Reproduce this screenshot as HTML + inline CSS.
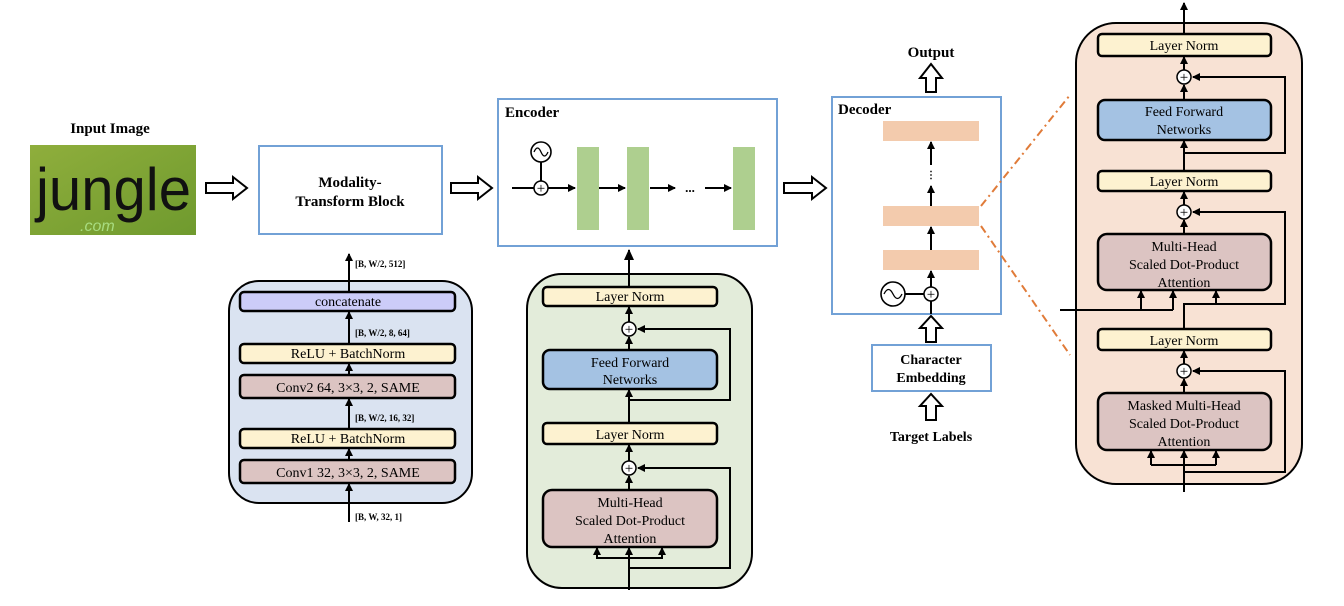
<!DOCTYPE html>
<html><head><meta charset="utf-8"><style>
html,body{margin:0;padding:0;background:#fff;}
svg{display:block;font-family:"Liberation Serif",serif;}
.b{font-weight:bold;}
</style></head><body>
<svg width="1344" height="606" viewBox="0 0 1344 606" xmlns="http://www.w3.org/2000/svg">
<defs>
<marker id="ah" markerWidth="8" markerHeight="8" refX="7" refY="4" orient="auto" markerUnits="userSpaceOnUse"><path d="M0,0 L8,4 L0,8 z" fill="#000"/></marker>
<marker id="ahs" markerWidth="11" markerHeight="10" refX="10" refY="5" orient="auto" markerUnits="userSpaceOnUse"><path d="M0,0 L11,5 L0,10 z" fill="#000"/></marker>
<linearGradient id="gimg" x1="0" y1="0" x2="1" y2="1"><stop offset="0" stop-color="#8fae3c"/><stop offset="1" stop-color="#6f9a2e"/></linearGradient>
</defs>

<!-- Input image -->
<text x="110" y="133" class="b" font-size="15" text-anchor="middle">Input Image</text>
<rect x="30" y="145" width="166" height="90" fill="url(#gimg)"/>
<text x="36" y="210" font-family="Liberation Sans,sans-serif" font-size="60" fill="#111" textLength="155" lengthAdjust="spacingAndGlyphs">jungle</text>
<text x="80" y="231" font-family="Liberation Sans,sans-serif" font-size="16" fill="#a8dc80" font-style="italic">.com</text>

<!-- hollow arrows -->
<g fill="#fff" stroke="#000" stroke-width="2">
<polygon points="206,183 233,183 233,177 247,188 233,199 233,193 206,193"/>
<polygon points="451,183 478,183 478,177 492,188 478,199 478,193 451,193"/>
<polygon points="784,183 812,183 812,177 826,188 812,199 812,193 784,193"/>
<polygon points="926,92 926,78 920,78 931,64 942,78 936,78 936,92"/>
<polygon points="926,342 926,328 920,328 931,316 942,328 936,328 936,342"/>
<polygon points="926,420 926,406 920,406 931,394 942,406 936,406 936,420"/>
<polygon points="853,131 866,131 866,127 875,135 866,143 866,139 853,139"/>
<polygon points="853,211 866,211 866,207 875,215 866,223 866,219 853,219"/>
<polygon points="853,251 866,251 866,247 875,255 866,263 866,259 853,259"/>
</g>

<!-- Modality box -->
<rect x="259" y="146" width="183" height="88" fill="#fff" stroke="#72a1d6" stroke-width="2"/>
<text x="350" y="187" class="b" font-size="15" text-anchor="middle">Modality-</text>
<text x="350" y="206" class="b" font-size="15" text-anchor="middle">Transform Block</text>

<!-- Encoder box -->
<rect x="498" y="99" width="279" height="147" fill="#fff" stroke="#72a1d6" stroke-width="2"/>
<text x="505" y="117" class="b" font-size="15">Encoder</text>
<circle cx="541" cy="152" r="10" fill="#fff" stroke="#000" stroke-width="1.6"/>
<path d="M534,152 q3.5,-8 7,0 t7,0" fill="none" stroke="#000" stroke-width="1.3"/>
<line x1="541" y1="162" x2="541" y2="181" stroke="#000" stroke-width="2"/>
<line x1="512" y1="188" x2="575" y2="188" stroke="#000" stroke-width="2" marker-end="url(#ah)"/>
<circle cx="541" cy="188" r="7" fill="#fff" stroke="#000" stroke-width="1.5"/>
<text x="541" y="193" font-size="15" text-anchor="middle">+</text>
<rect x="577" y="147" width="22" height="83" fill="#aecf8f"/>
<rect x="627" y="147" width="22" height="83" fill="#aecf8f"/>
<rect x="733" y="147" width="22" height="83" fill="#aecf8f"/>
<line x1="599" y1="188" x2="625" y2="188" stroke="#000" stroke-width="2" marker-end="url(#ah)"/>
<line x1="650" y1="188" x2="675" y2="188" stroke="#000" stroke-width="2" marker-end="url(#ah)"/>
<text x="690" y="192" font-size="13" text-anchor="middle" class="b">...</text>
<line x1="705" y1="188" x2="731" y2="188" stroke="#000" stroke-width="2" marker-end="url(#ah)"/>

<!-- Decoder box -->
<rect x="832" y="97" width="169" height="217" fill="#fff" stroke="#72a1d6" stroke-width="2"/>
<text x="838" y="114" class="b" font-size="15">Decoder</text>
<rect x="883" y="121" width="96" height="20" fill="#f3cbad"/>
<rect x="883" y="206" width="96" height="20" fill="#f3cbad"/>
<rect x="883" y="250" width="96" height="20" fill="#f3cbad"/>
<g stroke="#000" stroke-width="2">
<line x1="931" y1="314" x2="931" y2="301"/>
<line x1="931" y1="287" x2="931" y2="271" marker-end="url(#ah)"/>
<line x1="931" y1="250" x2="931" y2="227" marker-end="url(#ah)"/>
<line x1="931" y1="206" x2="931" y2="186" marker-end="url(#ah)"/>
<line x1="931" y1="165" x2="931" y2="142" marker-end="url(#ah)"/>
<line x1="905" y1="294" x2="924" y2="294"/>
</g>
<text x="931" y="178" font-size="10" text-anchor="middle" class="b">⋮</text>
<circle cx="893" cy="294" r="12" fill="#fff" stroke="#000" stroke-width="1.6"/>
<path d="M884,294 q4.5,-9 9,0 t9,0" fill="none" stroke="#000" stroke-width="1.3"/>
<circle cx="931" cy="294" r="7" fill="#fff" stroke="#000" stroke-width="1.5"/>
<text x="931" y="299" font-size="15" text-anchor="middle">+</text>

<text x="931" y="57" class="b" font-size="15" text-anchor="middle">Output</text>
<rect x="872" y="345" width="119" height="46" fill="#fff" stroke="#72a1d6" stroke-width="2"/>
<text x="931" y="364" class="b" font-size="14" text-anchor="middle">Character</text>
<text x="931" y="382" class="b" font-size="14" text-anchor="middle">Embedding</text>
<text x="931" y="441" class="b" font-size="14" text-anchor="middle">Target Labels</text>

<!-- orange dash-dot -->
<g stroke="#e07b39" stroke-width="2" stroke-dasharray="8,4,2,4" fill="none">
<line x1="981" y1="206" x2="1070" y2="95"/>
<line x1="981" y1="226" x2="1070" y2="355"/>
</g>

<!-- Modality detail -->
<rect x="229" y="281" width="243" height="222" rx="30" fill="#dae3f1" stroke="#000" stroke-width="2"/>
<line x1="349" y1="522" x2="349" y2="254" stroke="#000" stroke-width="2" marker-end="url(#ah)"/>
<g stroke="#000" stroke-width="2.5">
<rect x="240" y="292" width="215" height="19" rx="4" fill="#ccccf8"/>
<rect x="240" y="344" width="215" height="19" rx="4" fill="#fdf2d0"/>
<rect x="240" y="375" width="215" height="23" rx="4" fill="#dcc4c2"/>
<rect x="240" y="429" width="215" height="19" rx="4" fill="#fdf2d0"/>
<rect x="240" y="460" width="215" height="23" rx="4" fill="#dcc4c2"/>
</g>
<g stroke="#000" stroke-width="2">
<line x1="349" y1="344" x2="349" y2="312" marker-end="url(#ah)"/>
<line x1="349" y1="375" x2="349" y2="364" marker-end="url(#ah)"/>
<line x1="349" y1="429" x2="349" y2="399" marker-end="url(#ah)"/>
<line x1="349" y1="460" x2="349" y2="449" marker-end="url(#ah)"/>
<line x1="349" y1="522" x2="349" y2="484" marker-end="url(#ah)"/>
</g>
<g font-size="14" text-anchor="middle">
<text x="348" y="306">concatenate</text>
<text x="348" y="358">ReLU + BatchNorm</text>
<text x="348" y="392">Conv2 64, 3×3, 2, SAME</text>
<text x="348" y="443">ReLU + BatchNorm</text>
<text x="348" y="477">Conv1 32, 3×3, 2, SAME</text>
</g>
<g font-size="9" class="b">
<text x="355" y="267">[B, W/2, 512]</text>
<text x="355" y="336">[B, W/2, 8, 64]</text>
<text x="355" y="421">[B, W/2, 16, 32]</text>
<text x="355" y="520">[B, W, 32, 1]</text>
</g>

<!-- Encoder detail -->
<rect x="527" y="274" width="225" height="314" rx="35" fill="#e3ecda" stroke="#000" stroke-width="2"/>
<g stroke="#000" stroke-width="2" fill="none">
<line x1="629" y1="287" x2="629" y2="250" marker-end="url(#ahs)"/>
<line x1="629" y1="322" x2="629" y2="307" marker-end="url(#ah)"/>
<line x1="629" y1="350" x2="629" y2="337" marker-end="url(#ah)"/>
<line x1="629" y1="423" x2="629" y2="390" marker-end="url(#ah)"/>
<polyline points="629,400 730,400 730,329 638,329" marker-end="url(#ah)"/>
<line x1="629" y1="461" x2="629" y2="445" marker-end="url(#ah)"/>
<line x1="629" y1="490" x2="629" y2="476" marker-end="url(#ah)"/>
<polyline points="629,568 730,568 730,468 638,468" marker-end="url(#ah)"/>
<line x1="629" y1="590" x2="629" y2="548" marker-end="url(#ah)"/>
<polyline points="597,548 597,558 662,558 662,548"/>
<line x1="597" y1="558" x2="597" y2="548" marker-end="url(#ah)"/>
<line x1="662" y1="558" x2="662" y2="548" marker-end="url(#ah)"/>
</g>
<g stroke="#000" stroke-width="2.5">
<rect x="543" y="287" width="174" height="19" rx="4" fill="#fdf2d0"/>
<rect x="543" y="350" width="174" height="39" rx="7" fill="#a4c2e3"/>
<rect x="543" y="423" width="174" height="21" rx="4" fill="#fdf2d0"/>
<rect x="543" y="490" width="174" height="57" rx="9" fill="#dcc4c2"/>
</g>
<circle cx="629" cy="329" r="7" fill="#fff" stroke="#000" stroke-width="1.5"/>
<text x="629" y="334" font-size="15" text-anchor="middle">+</text>
<circle cx="629" cy="468" r="7" fill="#fff" stroke="#000" stroke-width="1.5"/>
<text x="629" y="473" font-size="15" text-anchor="middle">+</text>
<g font-size="14" text-anchor="middle">
<text x="630" y="301">Layer Norm</text>
<text x="630" y="367">Feed Forward</text>
<text x="630" y="384">Networks</text>
<text x="630" y="439">Layer Norm</text>
<text x="630" y="507">Multi-Head</text>
<text x="630" y="525">Scaled Dot-Product</text>
<text x="630" y="543">Attention</text>
</g>

<!-- Decoder detail -->
<rect x="1076" y="23" width="226" height="461" rx="40" fill="#f8e2d4" stroke="#000" stroke-width="2"/>
<g stroke="#000" stroke-width="2" fill="none">
<line x1="1184" y1="34" x2="1184" y2="3" marker-end="url(#ah)"/>
<line x1="1184" y1="70" x2="1184" y2="57" marker-end="url(#ah)"/>
<line x1="1184" y1="100" x2="1184" y2="85" marker-end="url(#ah)"/>
<line x1="1184" y1="171" x2="1184" y2="141" marker-end="url(#ah)"/>
<polyline points="1184,153 1285,153 1285,77 1193,77" marker-end="url(#ah)"/>
<line x1="1184" y1="205" x2="1184" y2="192" marker-end="url(#ah)"/>
<line x1="1184" y1="234" x2="1184" y2="220" marker-end="url(#ah)"/>
<polyline points="1060,310 1173,310"/>
<line x1="1141" y1="310" x2="1141" y2="291" marker-end="url(#ah)"/>
<line x1="1173" y1="310" x2="1173" y2="291" marker-end="url(#ah)"/>
<polyline points="1184,329 1184,304 1216,304"/>
<line x1="1216" y1="305" x2="1216" y2="291" marker-end="url(#ah)"/>
<polyline points="1184,304 1285,304 1285,212 1193,212" marker-end="url(#ah)"/>
<line x1="1184" y1="364" x2="1184" y2="351" marker-end="url(#ah)"/>
<line x1="1184" y1="393" x2="1184" y2="379" marker-end="url(#ah)"/>
<polyline points="1184,472 1285,472 1285,371 1193,371" marker-end="url(#ah)"/>
<line x1="1184" y1="492" x2="1184" y2="451" marker-end="url(#ah)"/>
<polyline points="1151,465 1216,465"/>
<line x1="1151" y1="465" x2="1151" y2="451" marker-end="url(#ah)"/>
<line x1="1216" y1="465" x2="1216" y2="451" marker-end="url(#ah)"/>
</g>
<g stroke="#000" stroke-width="2.5">
<rect x="1098" y="34" width="173" height="22" rx="4" fill="#fdf2d0"/>
<rect x="1098" y="100" width="173" height="40" rx="7" fill="#a4c2e3"/>
<rect x="1098" y="171" width="173" height="20" rx="4" fill="#fdf2d0"/>
<rect x="1098" y="234" width="173" height="56" rx="9" fill="#dcc4c2"/>
<rect x="1098" y="329" width="173" height="21" rx="4" fill="#fdf2d0"/>
<rect x="1098" y="393" width="173" height="57" rx="9" fill="#dcc4c2"/>
</g>
<circle cx="1184" cy="77" r="7" fill="#fff" stroke="#000" stroke-width="1.5"/>
<text x="1184" y="82" font-size="15" text-anchor="middle">+</text>
<circle cx="1184" cy="212" r="7" fill="#fff" stroke="#000" stroke-width="1.5"/>
<text x="1184" y="217" font-size="15" text-anchor="middle">+</text>
<circle cx="1184" cy="371" r="7" fill="#fff" stroke="#000" stroke-width="1.5"/>
<text x="1184" y="376" font-size="15" text-anchor="middle">+</text>
<g font-size="14" text-anchor="middle">
<text x="1184" y="50">Layer Norm</text>
<text x="1184" y="116">Feed Forward</text>
<text x="1184" y="134">Networks</text>
<text x="1184" y="186">Layer Norm</text>
<text x="1184" y="251">Multi-Head</text>
<text x="1184" y="269">Scaled Dot-Product</text>
<text x="1184" y="287">Attention</text>
<text x="1184" y="345">Layer Norm</text>
<text x="1184" y="410">Masked Multi-Head</text>
<text x="1184" y="428">Scaled Dot-Product</text>
<text x="1184" y="446">Attention</text>
</g>
</svg>
</body></html>
